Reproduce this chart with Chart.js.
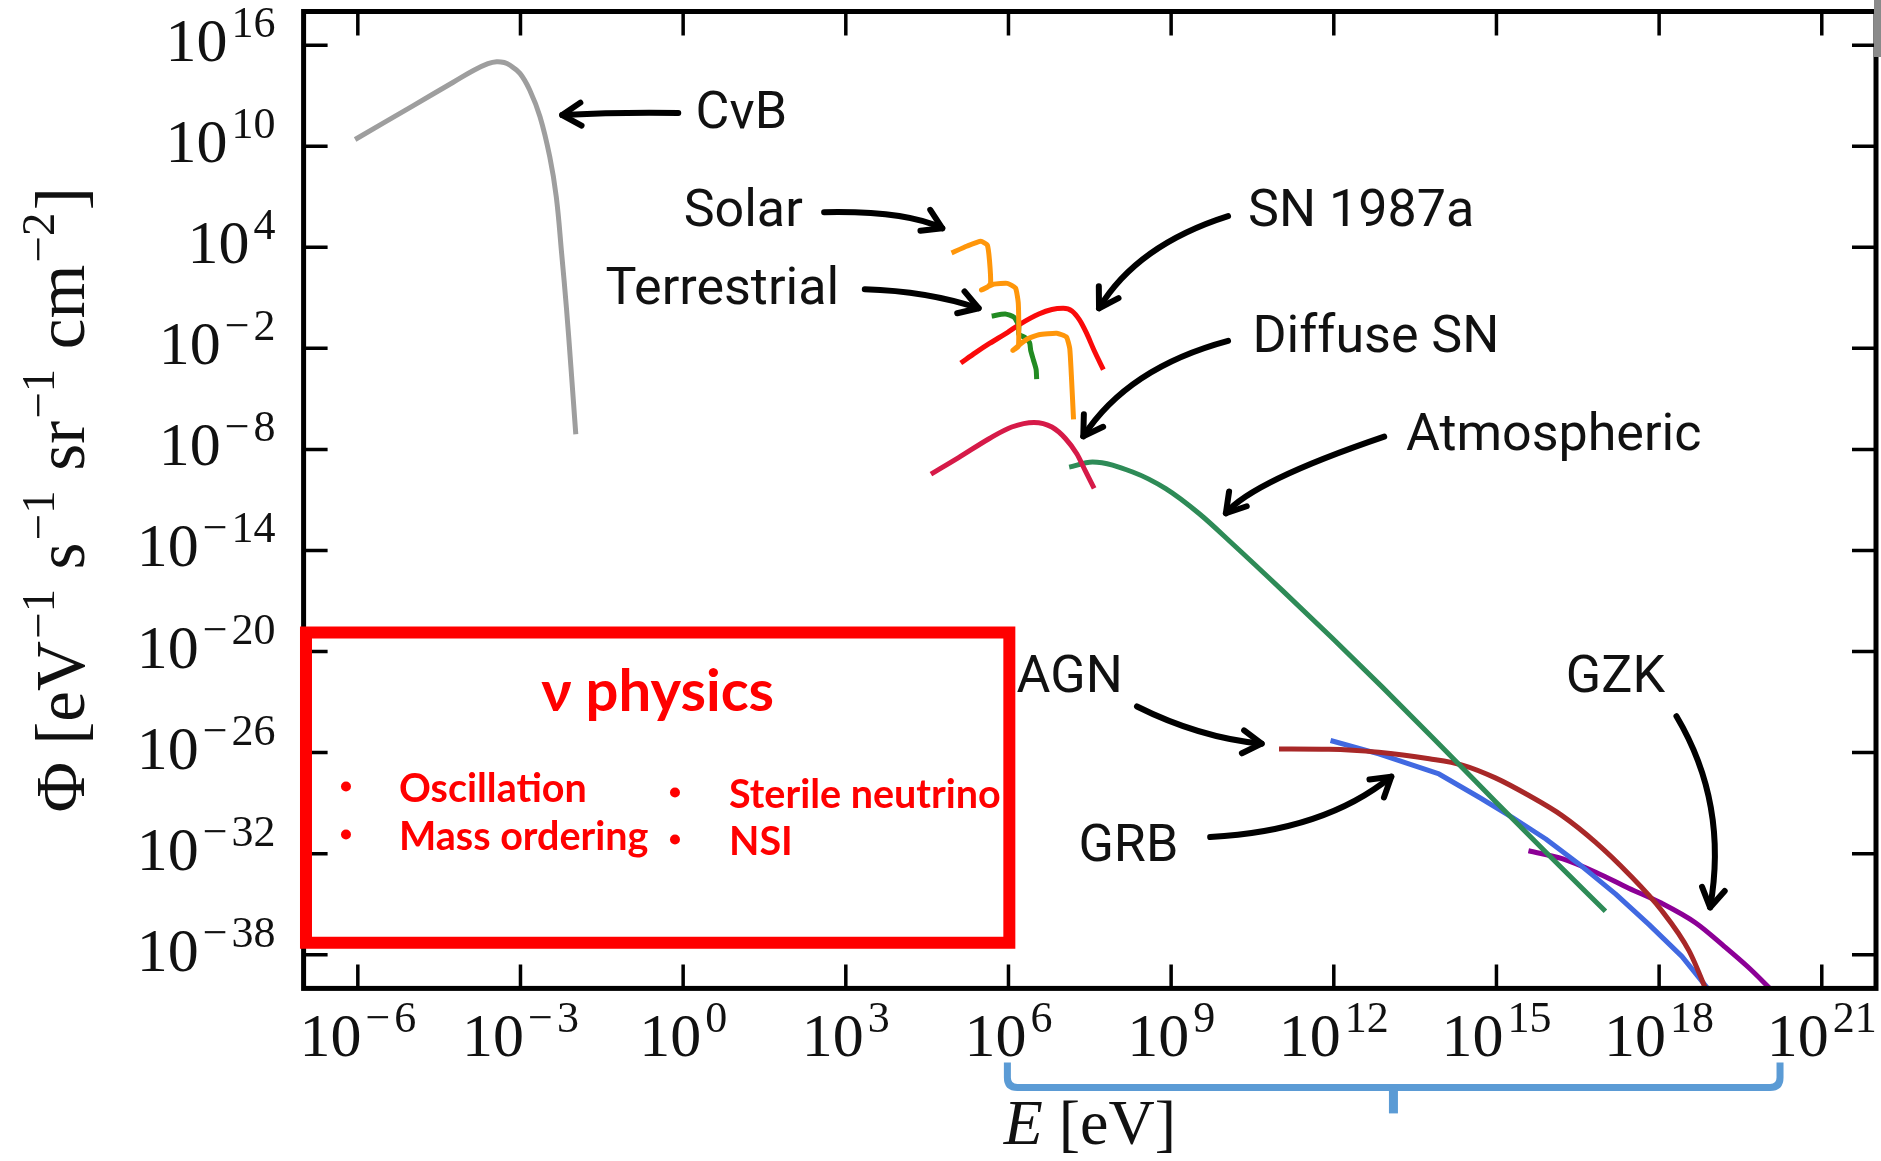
<!DOCTYPE html>
<html>
<head>
<meta charset="utf-8">
<title>Neutrino flux spectrum</title>
<script src="https://cdn.jsdelivr.net/npm/chart.js@4.4.1/dist/chart.umd.min.js"></script>
<style>
html,body{margin:0;padding:0;background:#ffffff;overflow:hidden;}
#box{width:1881px;height:1161px;position:relative;}
canvas{display:block;}
</style>
</head>
<body>
<div id="box"><canvas id="chart" width="1881" height="1161"></canvas></div>
<script>
// ---------- values: log10(E / eV) and log10(Φ) ----------
const cnbLogE   = [-6.05,-5.0,-4.24,-3.86,-3.6,-3.44,-3.30,-3.20,-3.01,-2.83,-2.64,-2.46,-2.34,-2.24,-2.15,-2.07,-1.98];
const cnbLogPhi = [10.4,12.37,13.8,14.51,14.9,15.02,14.97,14.82,14.33,13.34,11.75,9.37,7.0,3.6,0.3,-3.1,-7.1];

const solarLogE   = [4.95,5.24,5.49,5.61,5.65,5.67,5.61,5.50,5.73,5.98,6.13,6.18,6.19,6.18,6.08,6.35,6.56,6.89,7.07,7.13,7.16,7.20];
const solarLogPhi = [3.67,4.08,4.36,4.13,3.22,1.86,1.63,1.47,1.81,1.86,1.58,0.72,-1.10,-1.90,-2.12,-1.44,-1.19,-1.10,-1.33,-2.01,-3.60,-6.22];

const terrLogE   = [5.69,5.94,6.10,6.19,6.19,6.31,6.39,6.41,6.46,6.51,6.52];
const terrLogPhi = [-0.08,0.04,-0.15,-0.65,-1.15,-1.37,-1.67,-2.12,-2.69,-3.26,-3.83];

const sn1987LogE   = [5.12,5.40,5.65,5.98,6.23,6.56,6.80,7.01,7.17,7.31,7.44,7.58,7.75];
const sn1987LogPhi = [-2.87,-2.24,-1.71,-1.06,-0.53,0.04,0.31,0.38,0.22,-0.31,-1.10,-2.13,-3.26];

const diffuseLogE   = [4.57,5.08,5.65,6.06,6.47,6.80,7.05,7.26,7.42,7.58];
const diffuseLogPhi = [-9.47,-8.49,-7.35,-6.67,-6.40,-6.67,-7.35,-8.26,-9.29,-10.31];

const atmoLogE   = [7.12,7.55,8.29,8.90,9.52,10.13,11.05,11.97,12.89,13.82,14.98,16.0,17.01];
const atmoLogPhi = [-9.05,-8.75,-9.34,-10.33,-11.82,-13.60,-16.37,-19.2,-22.1,-25.1,-28.9,-32.2,-35.42];

const agnLogE   = [10.99,11.91,12.83,13.76,14.37,14.98,15.60,16.21,16.83,17.44,18.05,18.55,18.82,18.92];
const agnLogPhi = [-25.78,-25.80,-25.98,-26.37,-26.74,-27.50,-28.55,-29.74,-31.33,-33.21,-35.39,-37.76,-39.74,-40.6];

const grbLogE   = [11.94,12.83,13.94,14.68,15.29,15.91,16.52,17.20,17.81,18.42,18.92];
const grbLogPhi = [-25.28,-26.08,-27.27,-28.65,-29.84,-31.13,-32.61,-34.4,-36.2,-38.1,-40.1];

const gzkLogE   = [15.59,16.21,16.83,17.44,18.05,18.67,19.2,19.65,20.06];
const gzkLogPhi = [-31.83,-32.3,-33.1,-34.05,-34.95,-36.1,-37.5,-38.76,-40.05];

// tick labels (exponents of 10)
const xTickExps = [-6,-3,0,3,6,9,12,15,18,21];
const yTickExps = [16,10,4,-2,-8,-14,-20,-26,-32,-38];

// annotation labels: text, anchor log10(E), log10(Φ) (left end of baseline)
const labelTexts  = ['CνB','Solar','Terrestrial','SN 1987a','Diffuse SN','Atmospheric','AGN','GRB','GZK'];
const labelLogE   = [0.23,0.01,-1.43,10.42,10.50,13.33,6.15,7.29,16.28];
const labelLogPhi = [11.08,5.26,0.62,5.26,-2.23,-8.05,-22.43,-32.42,-22.43];

// arrows: start, control, end as log10(E), log10(Φ)
const arrowStartE = [-0.09,2.60,3.35,10.05,10.05,12.93,8.37,9.72,18.32];
const arrowStartP = [11.97,6.08,1.51,5.85,-1.55,-7.24,-23.26,-31.01,-23.84];
const arrowCtrlE  = [-1.17,4.09,4.50,8.37,8.20,10.50,9.52,11.82,19.28];
const arrowCtrlP  = [12.03,6.18,1.40,4.13,-3.15,-9.90,-25.11,-30.67,-29.05];
const arrowEndE   = [-2.23,4.78,5.45,7.67,7.38,10.01,10.67,13.06,18.94];
const arrowEndP   = [11.85,5.13,0.38,0.38,-7.22,-11.79,-25.47,-27.43,-35.19];

// "ν physics" box and its bullet lists
const boxTitle = 'ν physics';
const boxCol1 = ['Oscillation','Mass ordering'];
const boxCol2 = ['Sterile neutrino','NSI'];
const boxLogE = [-6.956, 6.016];   // left, right
const boxLogPhi = [-18.87, -37.29]; // top, bottom

// energy-range brace under the axis (log10 E)
const braceLogE = [5.98, 13.10, 20.23]; // left, stem, right

// ---------- styles ----------
const seriesStyle = [
  {name:'CνB',         e:cnbLogE,     p:cnbLogPhi,     color:'rgb(158,158,158)', tension:0.4, mono:false},
  {name:'Solar',       e:solarLogE,   p:solarLogPhi,   color:'rgb(255,150,10)',  tension:0.15, mono:false},
  {name:'Terrestrial', e:terrLogE,    p:terrLogPhi,    color:'rgb(34,139,34)',   tension:0.2, mono:false},
  {name:'SN 1987a',    e:sn1987LogE,  p:sn1987LogPhi,  color:'rgb(250,10,10)',   tension:0.4, mono:true},
  {name:'Diffuse SN',  e:diffuseLogE, p:diffuseLogPhi, color:'rgb(214,26,72)',   tension:0.4, mono:true},
  {name:'Atmospheric', e:atmoLogE,    p:atmoLogPhi,    color:'rgb(46,139,87)',   tension:0.4, mono:true},
  {name:'AGN',         e:agnLogE,     p:agnLogPhi,     color:'rgb(168,40,40)',   tension:0.4, mono:true},
  {name:'GRB',         e:grbLogE,     p:grbLogPhi,     color:'rgb(65,105,225)',  tension:0,   mono:false},
  {name:'GZK',         e:gzkLogE,     p:gzkLogPhi,     color:'rgb(140,0,150)',   tension:0.4, mono:true}
];

const datasets = seriesStyle.map(s => ({
  label: s.name,
  data: s.e.map((v, i) => ({x: Math.pow(10, v), y: Math.pow(10, s.p[i])})),
  showLine: true,
  borderColor: s.color,
  backgroundColor: s.color,
  borderWidth: 5,
  pointRadius: 0,
  pointHoverRadius: 0,
  tension: s.tension,
  cubicInterpolationMode: s.mono ? 'monotone' : 'default',
  borderCapStyle: 'butt',
  borderJoinStyle: 'round',
  fill: false
}));

const SERIF = '"Liberation Serif", "DejaVu Serif", serif';
const SANS = 'Roboto, "Liberation Sans", sans-serif';
const BOXFONT = 'Lato, "Open Sans", sans-serif';

function measureParts(ctx, parts, baseFont, supFont, gap) {
  const w = parts.map(p => { ctx.font = p[1] ? supFont : baseFont; return ctx.measureText(p[0]).width; });
  return {w, total: w.reduce((s, v) => s + v, 0) + gap * (parts.length - 1)};
}
function drawParts(ctx, parts, x, y, align, baseFont, supFont, raise, gap) {
  const m = measureParts(ctx, parts, baseFont, supFont, gap);
  let cx = align === 'center' ? x - m.total / 2 : (align === 'right' ? x - m.total : x);
  ctx.textAlign = 'left';
  ctx.textBaseline = 'alphabetic';
  parts.forEach((p, i) => {
    ctx.font = p[1] ? supFont : baseFont;
    ctx.fillText(p[0], cx, p[1] ? y - raise : y);
    cx += m.w[i] + gap;
  });
  return m.total;
}
// "10" followed by a raised exponent; a negative sign gets its own, wider slot
function powParts(e) {
  const parts = [['10', 0]];
  if (e < 0) parts.push(['\u2212', 1]);
  parts.push([String(Math.abs(e)), 1]);
  return parts;
}

function arrow(ctx, sx, sy, cx, cy, ex, ey) {
  ctx.beginPath();
  ctx.moveTo(sx, sy);
  ctx.quadraticCurveTo(cx, cy, ex, ey);
  ctx.stroke();
  const ang = Math.atan2(ey - cy, ex - cx);
  const L = 22, spread = 0.55;
  ctx.beginPath();
  ctx.moveTo(ex - L * Math.cos(ang - spread), ey - L * Math.sin(ang - spread));
  ctx.lineTo(ex, ey);
  ctx.lineTo(ex - L * Math.cos(ang + spread), ey - L * Math.sin(ang + spread));
  ctx.stroke();
}

const decorations = {
  id: 'decorations',
  afterDatasetsDraw(chart) {
    const ctx = chart.ctx, a = chart.chartArea;
    const xs = chart.scales.x, ys = chart.scales.y;
    const X = v => xs.getPixelForValue(Math.pow(10, v));
    const Y = v => ys.getPixelForValue(Math.pow(10, v));
    ctx.save();

    // frame
    ctx.strokeStyle = '#000';
    ctx.lineWidth = 5;
    ctx.strokeRect(a.left, a.top, a.right - a.left, a.bottom - a.top);

    // inward ticks on all four sides
    ctx.lineWidth = 3.5;
    ctx.beginPath();
    xTickExps.forEach(e => {
      const p = X(e);
      ctx.moveTo(p, a.bottom); ctx.lineTo(p, a.bottom - 24);
      ctx.moveTo(p, a.top); ctx.lineTo(p, a.top + 24);
    });
    yTickExps.forEach(e => {
      const p = Y(e);
      ctx.moveTo(a.left, p); ctx.lineTo(a.left + 24, p);
      ctx.moveTo(a.right, p); ctx.lineTo(a.right - 24, p);
    });
    ctx.stroke();

    // tick labels
    ctx.fillStyle = '#111';
    const bf = '62px ' + SERIF, sf = '44px ' + SERIF;
    xTickExps.forEach(e => {
      drawParts(ctx, powParts(e), X(e), a.bottom + 68, 'center', bf, sf, 24, 4);
    });
    yTickExps.forEach(e => {
      drawParts(ctx, powParts(e), a.left - 28, Y(e) + 16, 'right', bf, sf, 24, 4);
    });

    // y-axis title (rotated), scaled to span the same length as in the picture
    const yParts = [['Φ [eV', 0], ['\u22121', 1], [' s', 0], ['\u22121', 1], [' sr', 0], ['\u22121', 1], [' cm', 0], ['\u22122', 1], [']', 0]];
    const m0 = measureParts(ctx, yParts, '62px ' + SERIF, '42px ' + SERIF, 2);
    const k = 625 / m0.total;
    ctx.save();
    ctx.translate(84, (a.top + a.bottom) / 2);
    ctx.rotate(-Math.PI / 2);
    drawParts(ctx, yParts, 0, 0, 'center', (62 * k).toFixed(1) + 'px ' + SERIF, (42 * k).toFixed(1) + 'px ' + SERIF, 27 * k, 2 * k);
    ctx.restore();

    // x-axis title
    ctx.font = 'italic 64px ' + SERIF;
    const wE = ctx.measureText('E').width;
    ctx.font = '64px ' + SERIF;
    const wR = ctx.measureText(' [eV]').width;
    let sx = (a.left + a.right) / 2 - (wE + wR) / 2;
    ctx.textAlign = 'left';
    ctx.font = 'italic 64px ' + SERIF;
    ctx.fillText('E', sx, a.bottom + 156);
    ctx.font = '64px ' + SERIF;
    ctx.fillText(' [eV]', sx + wE, a.bottom + 156);

    // brace marking the energy range
    const bl = X(braceLogE[0]), bm = X(braceLogE[1]), br = X(braceLogE[2]);
    const bt = a.bottom + 74, bh = a.bottom + 99, bs = a.bottom + 125, r = 10;
    ctx.strokeStyle = '#5B9BD5';
    ctx.lineWidth = 7;
    ctx.lineCap = 'butt';
    ctx.beginPath();
    ctx.moveTo(bl, bt);
    ctx.lineTo(bl, bh - r);
    ctx.quadraticCurveTo(bl, bh, bl + r, bh);
    ctx.lineTo(br - r, bh);
    ctx.quadraticCurveTo(br, bh, br, bh - r);
    ctx.lineTo(br, bt);
    ctx.stroke();
    ctx.lineWidth = 9;
    ctx.beginPath();
    ctx.moveTo(bm, bh);
    ctx.lineTo(bm, bs);
    ctx.stroke();

    // annotation labels
    ctx.fillStyle = '#111';
    ctx.font = '52px ' + SANS;
    ctx.textAlign = 'left';
    ctx.textBaseline = 'alphabetic';
    labelTexts.forEach((t, i) => ctx.fillText(t, X(labelLogE[i]), Y(labelLogPhi[i])));

    // arrows
    ctx.strokeStyle = '#000';
    ctx.lineWidth = 6;
    ctx.lineCap = 'round';
    ctx.lineJoin = 'round';
    arrowStartE.forEach((v, i) => {
      arrow(ctx, X(v), Y(arrowStartP[i]), X(arrowCtrlE[i]), Y(arrowCtrlP[i]), X(arrowEndE[i]), Y(arrowEndP[i]));
    });

    // red "ν physics" box
    const L = X(boxLogE[0]), R = X(boxLogE[1]), T = Y(boxLogPhi[0]), B = Y(boxLogPhi[1]);
    ctx.strokeStyle = '#FF0000';
    ctx.lineWidth = 12;
    ctx.lineCap = 'butt';
    ctx.lineJoin = 'miter';
    ctx.strokeRect(L, T, R - L, B - T);
    ctx.fillStyle = '#FF0000';
    ctx.textAlign = 'center';
    ctx.font = 'bold 58px ' + BOXFONT;
    ctx.fillText(boxTitle, (L + R) / 2, T + 78);
    ctx.textAlign = 'left';
    ctx.font = 'bold 39.5px ' + BOXFONT;
    boxCol1.forEach((t, i) => {
      const base = T + 169 + i * 48;
      ctx.beginPath(); ctx.arc(L + 40, base - 15, 5, 0, Math.PI * 2); ctx.fill();
      ctx.fillText(t, L + 93, base);
    });
    boxCol2.forEach((t, i) => {
      const base = T + 175 + i * 47;
      ctx.beginPath(); ctx.arc(L + 369, base - 15, 5, 0, Math.PI * 2); ctx.fill();
      ctx.fillText(t, L + 423, base);
    });

    // small grey edge mark at top right of the picture
    ctx.fillStyle = '#8a8a8a';
    ctx.fillRect(1874, 0, 7, 57);

    ctx.restore();
  }
};

function build() {
  new Chart(document.getElementById('chart'), {
    type: 'scatter',
    data: {datasets},
    options: {
      responsive: false,
      animation: false,
      devicePixelRatio: 1,
      layout: {padding: {left: 303.6, right: 5, top: 11.5, bottom: 172.6}},
      plugins: {legend: {display: false}, tooltip: {enabled: false}},
      events: [],
      scales: {
        x: {type: 'logarithmic', min: 1e-7, max: 1e22, display: false},
        y: {type: 'logarithmic', min: 1e-40, max: 1e18, display: false}
      }
    },
    plugins: [decorations]
  });
}
const fontLoads = ['62px "Liberation Serif"', 'italic 64px "Liberation Serif"', '52px Roboto', 'bold 39px Lato'].map(f => document.fonts.load(f).catch(() => null));
Promise.all(fontLoads).then(build, build);
</script>
</body>
</html>
